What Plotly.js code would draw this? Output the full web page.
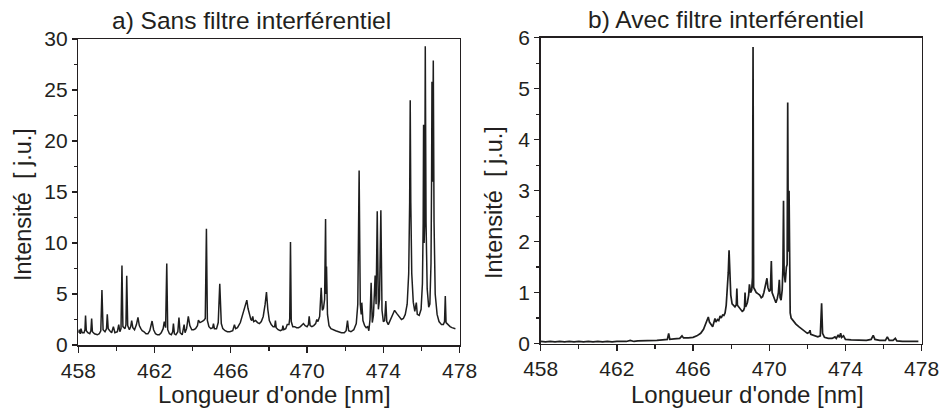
<!DOCTYPE html>
<html>
<head>
<meta charset="utf-8">
<script src="https://cdn.plot.ly/plotly-3.0.1.min.js"></script>
<style>html,body{margin:0;padding:0;background:#fff;}#chart{width:942px;height:410px;}</style>
</head>
<body>
<div id="chart"></div>
<script>
// Panel a) Sans filtre interférentiel
const waveA = [458.00,458.05,458.10,458.14,458.20,458.30,458.35,458.38,458.42,458.50,458.60,458.66,458.70,458.74,458.85,459.00,459.10,459.18,459.24,459.30,459.40,459.48,459.52,459.57,459.65,459.75,459.84,459.92,460.05,460.12,460.18,460.24,460.29,460.34,460.45,460.50,460.54,460.59,460.68,460.75,460.80,460.86,460.95,461.05,461.13,461.20,461.28,461.35,461.45,461.55,461.65,461.75,461.87,461.95,462.05,462.15,462.25,462.35,462.45,462.51,462.58,462.64,462.69,462.78,462.88,462.95,462.99,463.04,463.12,463.22,463.28,463.34,463.45,463.55,463.60,463.68,463.77,463.85,463.95,464.05,464.15,464.25,464.30,464.38,464.48,464.58,464.66,464.72,464.77,464.85,464.95,465.05,465.09,465.14,465.25,465.34,465.42,465.50,465.58,465.70,465.82,465.95,466.10,466.19,466.25,466.35,466.50,466.60,466.70,466.78,466.84,466.90,466.98,467.05,467.10,467.15,467.20,467.30,467.40,467.50,467.60,467.70,467.80,467.87,467.94,468.02,468.12,468.22,468.30,468.34,468.38,468.48,468.60,468.70,468.73,468.78,468.88,468.96,469.05,469.09,469.13,469.17,469.25,469.35,469.45,469.55,469.65,469.75,469.81,469.90,470.00,470.07,470.11,470.16,470.25,470.35,470.45,470.51,470.57,470.66,470.74,470.80,470.86,470.92,470.97,471.00,471.02,471.07,471.15,471.25,471.35,471.50,471.65,471.80,471.95,472.05,472.12,472.18,472.30,472.45,472.58,472.66,472.73,472.79,472.84,472.87,472.93,473.02,473.10,473.18,473.24,473.30,473.36,473.42,473.48,473.57,473.62,473.68,473.74,473.80,473.87,473.93,474.00,474.07,474.13,474.18,474.26,474.36,474.48,474.59,474.70,474.82,474.95,475.05,475.15,475.25,475.33,475.38,475.41,475.44,475.49,475.57,475.65,475.73,475.78,475.88,475.98,476.05,476.09,476.11,476.14,476.17,476.20,476.24,476.30,476.38,476.44,476.50,476.53,476.55,476.58,476.62,476.66,476.72,476.82,476.92,477.05,477.15,477.21,477.25,477.29,477.38,477.50,477.60,477.70,477.78];
const intensA = [1.2,1.5,1.1,1.6,1.2,1.2,1.5,2.9,1.4,1.2,1.1,1.4,2.6,1.3,1.1,1.0,1.1,1.4,5.4,1.5,1.3,1.6,3.0,1.6,1.4,1.2,1.8,1.2,1.3,2.0,1.3,1.6,7.8,1.8,1.6,2.0,6.8,1.9,1.5,1.8,2.4,1.7,1.5,2.0,2.7,1.9,1.6,1.4,1.3,1.1,1.1,1.4,2.35,1.5,1.1,1.0,1.0,1.2,1.6,2.3,1.7,8.0,1.5,1.1,1.0,1.3,2.1,1.1,1.0,1.3,2.7,1.2,1.0,2.0,1.2,1.6,2.8,1.9,1.5,1.5,1.6,1.9,2.45,2.2,2.3,2.4,2.6,11.4,2.4,1.8,1.6,1.7,2.1,1.6,1.6,2.2,6.0,2.1,1.6,1.4,1.3,1.3,1.4,2.0,1.6,1.7,2.2,2.8,3.5,3.9,4.4,3.6,2.9,2.5,2.4,2.8,2.3,2.4,2.2,2.1,2.3,2.8,4.0,5.2,3.5,2.4,2.0,1.8,1.8,2.4,1.7,1.5,1.4,1.5,1.9,1.5,1.6,2.0,2.0,2.6,10.1,2.3,1.8,1.8,1.7,1.7,1.8,2.0,2.1,1.9,1.8,2.0,2.8,1.9,1.8,1.9,2.1,2.5,2.3,2.8,5.6,3.4,3.6,4.5,12.35,5.0,7.7,3.0,1.9,1.6,1.5,1.4,1.3,1.2,1.2,1.4,2.4,1.4,1.3,1.5,2.1,4.0,17.1,4.0,3.0,4.15,2.4,1.9,1.7,1.8,1.4,2.5,6.1,2.2,2.9,6.8,4.0,13.1,3.5,4.5,13.2,3.4,2.3,2.4,4.3,2.3,2.0,2.4,3.0,3.4,3.1,2.8,2.5,2.6,3.0,4.0,7.0,14.0,24.0,14.0,7.0,4.2,3.3,4.15,3.0,2.9,3.5,6.0,12.0,21.6,10.0,12.0,29.3,12.0,5.5,3.7,4.0,8.0,16.0,25.8,16.0,27.9,12.0,5.0,3.0,2.3,2.0,2.0,2.3,4.8,2.2,2.0,1.8,1.7,1.6,1.6];

// Panel b) Avec filtre interférentiel
const waveB = [458.0,458.25,458.5,458.75,459.0,459.25,459.5,459.75,460.0,460.25,460.5,460.75,461.0,461.25,461.5,461.75,462.0,462.25,462.5,462.7,462.9,463.1,463.3,463.5,463.7,463.9,464.1,464.4,464.65,464.72,464.78,465.0,465.3,465.42,465.5,465.75,466.0,466.2,466.4,466.55,466.68,466.75,466.8,466.86,466.95,467.03,467.1,467.15,467.2,467.28,467.35,467.42,467.48,467.55,467.62,467.68,467.74,467.8,467.85,467.89,467.93,467.98,468.05,468.12,468.2,468.27,468.3,468.33,468.42,468.5,468.58,468.65,468.7,468.73,468.76,468.85,468.92,468.96,469.02,469.08,469.12,469.15,469.18,469.25,469.32,469.4,469.5,469.58,469.65,469.72,469.8,469.88,469.93,470.0,470.06,470.11,470.15,470.2,470.28,470.35,470.42,470.48,470.53,470.57,470.62,470.68,470.72,470.75,470.78,470.84,470.9,470.94,470.97,471.0,471.04,471.07,471.1,471.15,471.25,471.4,471.55,471.7,471.85,472.0,472.1,472.14,472.18,472.35,472.55,472.68,472.75,472.8,472.9,473.1,473.3,473.45,473.52,473.62,473.68,473.75,473.8,473.9,474.0,474.3,474.7,475.1,475.35,475.46,475.55,475.8,476.1,476.2,476.3,476.5,476.62,476.7,477.0,477.4,477.83];
const intensB = [0.04,0.03,0.04,0.03,0.04,0.03,0.04,0.03,0.04,0.03,0.04,0.03,0.04,0.03,0.04,0.03,0.04,0.04,0.04,0.06,0.04,0.05,0.05,0.05,0.05,0.06,0.06,0.07,0.08,0.2,0.08,0.09,0.1,0.15,0.11,0.11,0.12,0.15,0.2,0.28,0.4,0.45,0.52,0.42,0.38,0.33,0.42,0.49,0.42,0.47,0.45,0.54,0.5,0.56,0.55,0.6,0.75,1.05,1.4,1.83,1.3,0.95,0.78,0.75,0.72,0.76,1.08,0.75,0.7,0.66,0.63,0.65,0.7,1.0,0.72,0.8,0.95,1.16,1.0,1.05,1.3,5.82,1.1,1.05,1.0,0.98,0.95,0.9,0.92,1.0,1.12,1.28,1.1,1.02,1.05,1.62,1.0,0.95,0.85,0.8,0.88,1.0,1.25,0.9,0.85,1.05,1.5,2.8,1.4,1.2,1.5,1.55,4.73,1.8,3.0,1.0,0.6,0.5,0.45,0.38,0.33,0.28,0.24,0.2,0.22,0.26,0.18,0.15,0.13,0.15,0.79,0.2,0.12,0.1,0.1,0.13,0.1,0.17,0.12,0.2,0.12,0.15,0.08,0.07,0.06,0.06,0.08,0.16,0.08,0.06,0.06,0.13,0.06,0.06,0.1,0.05,0.04,0.04,0.04];

const xTickVals = [458,462,466,470,474,478];
const titleA = "a) Sans filtre interférentiel";
const titleB = "b) Avec filtre interférentiel";
const xTitle = "Longueur d'onde [nm]";
const yTitle = "Intensité  [ j.u.]";

const ink = '#231f20';
const FONT = 'Liberation Sans, Arial, Helvetica, sans-serif';

const traces = [
  {x: waveA, y: intensA, type: 'scatter', mode: 'lines', xaxis: 'x', yaxis: 'y',
   line: {color: '#1e1e1e', width: 1.5}, hoverinfo: 'skip'},
  {x: waveB, y: intensB, type: 'scatter', mode: 'lines', xaxis: 'x2', yaxis: 'y2',
   line: {color: '#1e1e1e', width: 1.7}, hoverinfo: 'skip'}
];

function mainX(dom, anchor) {
  return {domain: dom, anchor: anchor, range: [458, 478], tickmode: 'array', tickvals: xTickVals,
    ticks: 'outside', ticklen: 6, tickwidth: 1.3, tickcolor: ink,
    minor: {dtick: 2, tick0: 458, ticks: 'outside', ticklen: 4, tickwidth: 1.2, tickcolor: ink},
    showline: true, linecolor: ink, linewidth: 1.5, mirror: true,
    showgrid: false, zeroline: false, tickfont: {family: FONT, size: 21, color: ink}};
}
function mainY(dom, anchor, max, dt) {
  return {domain: dom, anchor: anchor, range: [0, max], dtick: dt, tick0: 0,
    ticks: 'outside', ticklen: 5, tickwidth: 1.3, tickcolor: ink,
    minor: {dtick: dt / 2, tick0: 0, ticks: 'outside', ticklen: 3, tickwidth: 1.2, tickcolor: ink},
    showline: true, linecolor: ink, linewidth: 1.5, mirror: true,
    showgrid: false, zeroline: false, tickfont: {family: FONT, size: 21, color: ink}};
}
function topX(over, anchor) {
  return {overlaying: over, anchor: anchor, side: 'top', range: [458, 478], tickmode: 'array', tickvals: xTickVals,
    ticks: 'inside', ticklen: 5, tickwidth: 1.2, tickcolor: ink,
    minor: {dtick: 2, tick0: 458, ticks: 'inside', ticklen: 3, tickwidth: 1.1, tickcolor: ink},
    showticklabels: false, showline: false, showgrid: false, zeroline: false};
}
function rightY(over, anchor, max, dt) {
  return {overlaying: over, anchor: anchor, side: 'right', range: [0, max], dtick: dt, tick0: 0,
    ticks: 'inside', ticklen: 5, tickwidth: 1.2, tickcolor: ink,
    minor: {dtick: dt / 2, tick0: 0, ticks: 'inside', ticklen: 3, tickwidth: 1.1, tickcolor: ink},
    showticklabels: false, showline: false, showgrid: false, zeroline: false};
}

const domYA = [1 - 345 / 410, 1 - 39 / 410];
const domYB = [1 - 343.5 / 410, 1 - 37.8 / 410];

const layout = {
  width: 942, height: 410,
  margin: {l: 0, r: 0, t: 0, b: 0},
  paper_bgcolor: '#fff', plot_bgcolor: 'rgba(0,0,0,0)',
  showlegend: false,
  font: {family: FONT, color: ink},
  xaxis: mainX([78.3 / 942, 459.6 / 942], 'y'),
  yaxis: mainY(domYA, 'x', 30, 5),
  xaxis2: mainX([540.7 / 942, 921.6 / 942], 'y2'),
  yaxis2: mainY(domYB, 'x2', 6, 1),
  xaxis3: topX('x', 'y'),
  yaxis3: rightY('y', 'x', 30, 5),
  xaxis4: topX('x2', 'y2'),
  yaxis4: rightY('y2', 'x2', 6, 1),
  annotations: [
    {text: titleA, xref: 'paper', yref: 'paper', x: 251 / 942, y: 1 - 20 / 410, xanchor: 'center', yanchor: 'middle', showarrow: false, font: {family: FONT, size: 24.5, color: ink}},
    {text: titleB, xref: 'paper', yref: 'paper', x: 726 / 942, y: 1 - 19 / 410, xanchor: 'center', yanchor: 'middle', showarrow: false, font: {family: FONT, size: 24.5, color: ink}},
    {text: xTitle, xref: 'paper', yref: 'paper', x: 274 / 942, y: 1 - 394.5 / 410, xanchor: 'center', yanchor: 'middle', showarrow: false, font: {family: FONT, size: 24, color: ink}},
    {text: xTitle, xref: 'paper', yref: 'paper', x: 747 / 942, y: 1 - 394.5 / 410, xanchor: 'center', yanchor: 'middle', showarrow: false, font: {family: FONT, size: 24, color: ink}},
    {text: yTitle, xref: 'paper', yref: 'paper', x: 23 / 942, y: 1 - 205 / 410, xanchor: 'center', yanchor: 'middle', textangle: -90, showarrow: false, font: {family: FONT, size: 23.5, color: ink}},
    {text: yTitle, xref: 'paper', yref: 'paper', x: 494 / 942, y: 1 - 203 / 410, xanchor: 'center', yanchor: 'middle', textangle: -90, showarrow: false, font: {family: FONT, size: 23.5, color: ink}}
  ]
};

Plotly.newPlot('chart', traces, layout, {staticPlot: true, displayModeBar: false});
</script>
</body>
</html>
